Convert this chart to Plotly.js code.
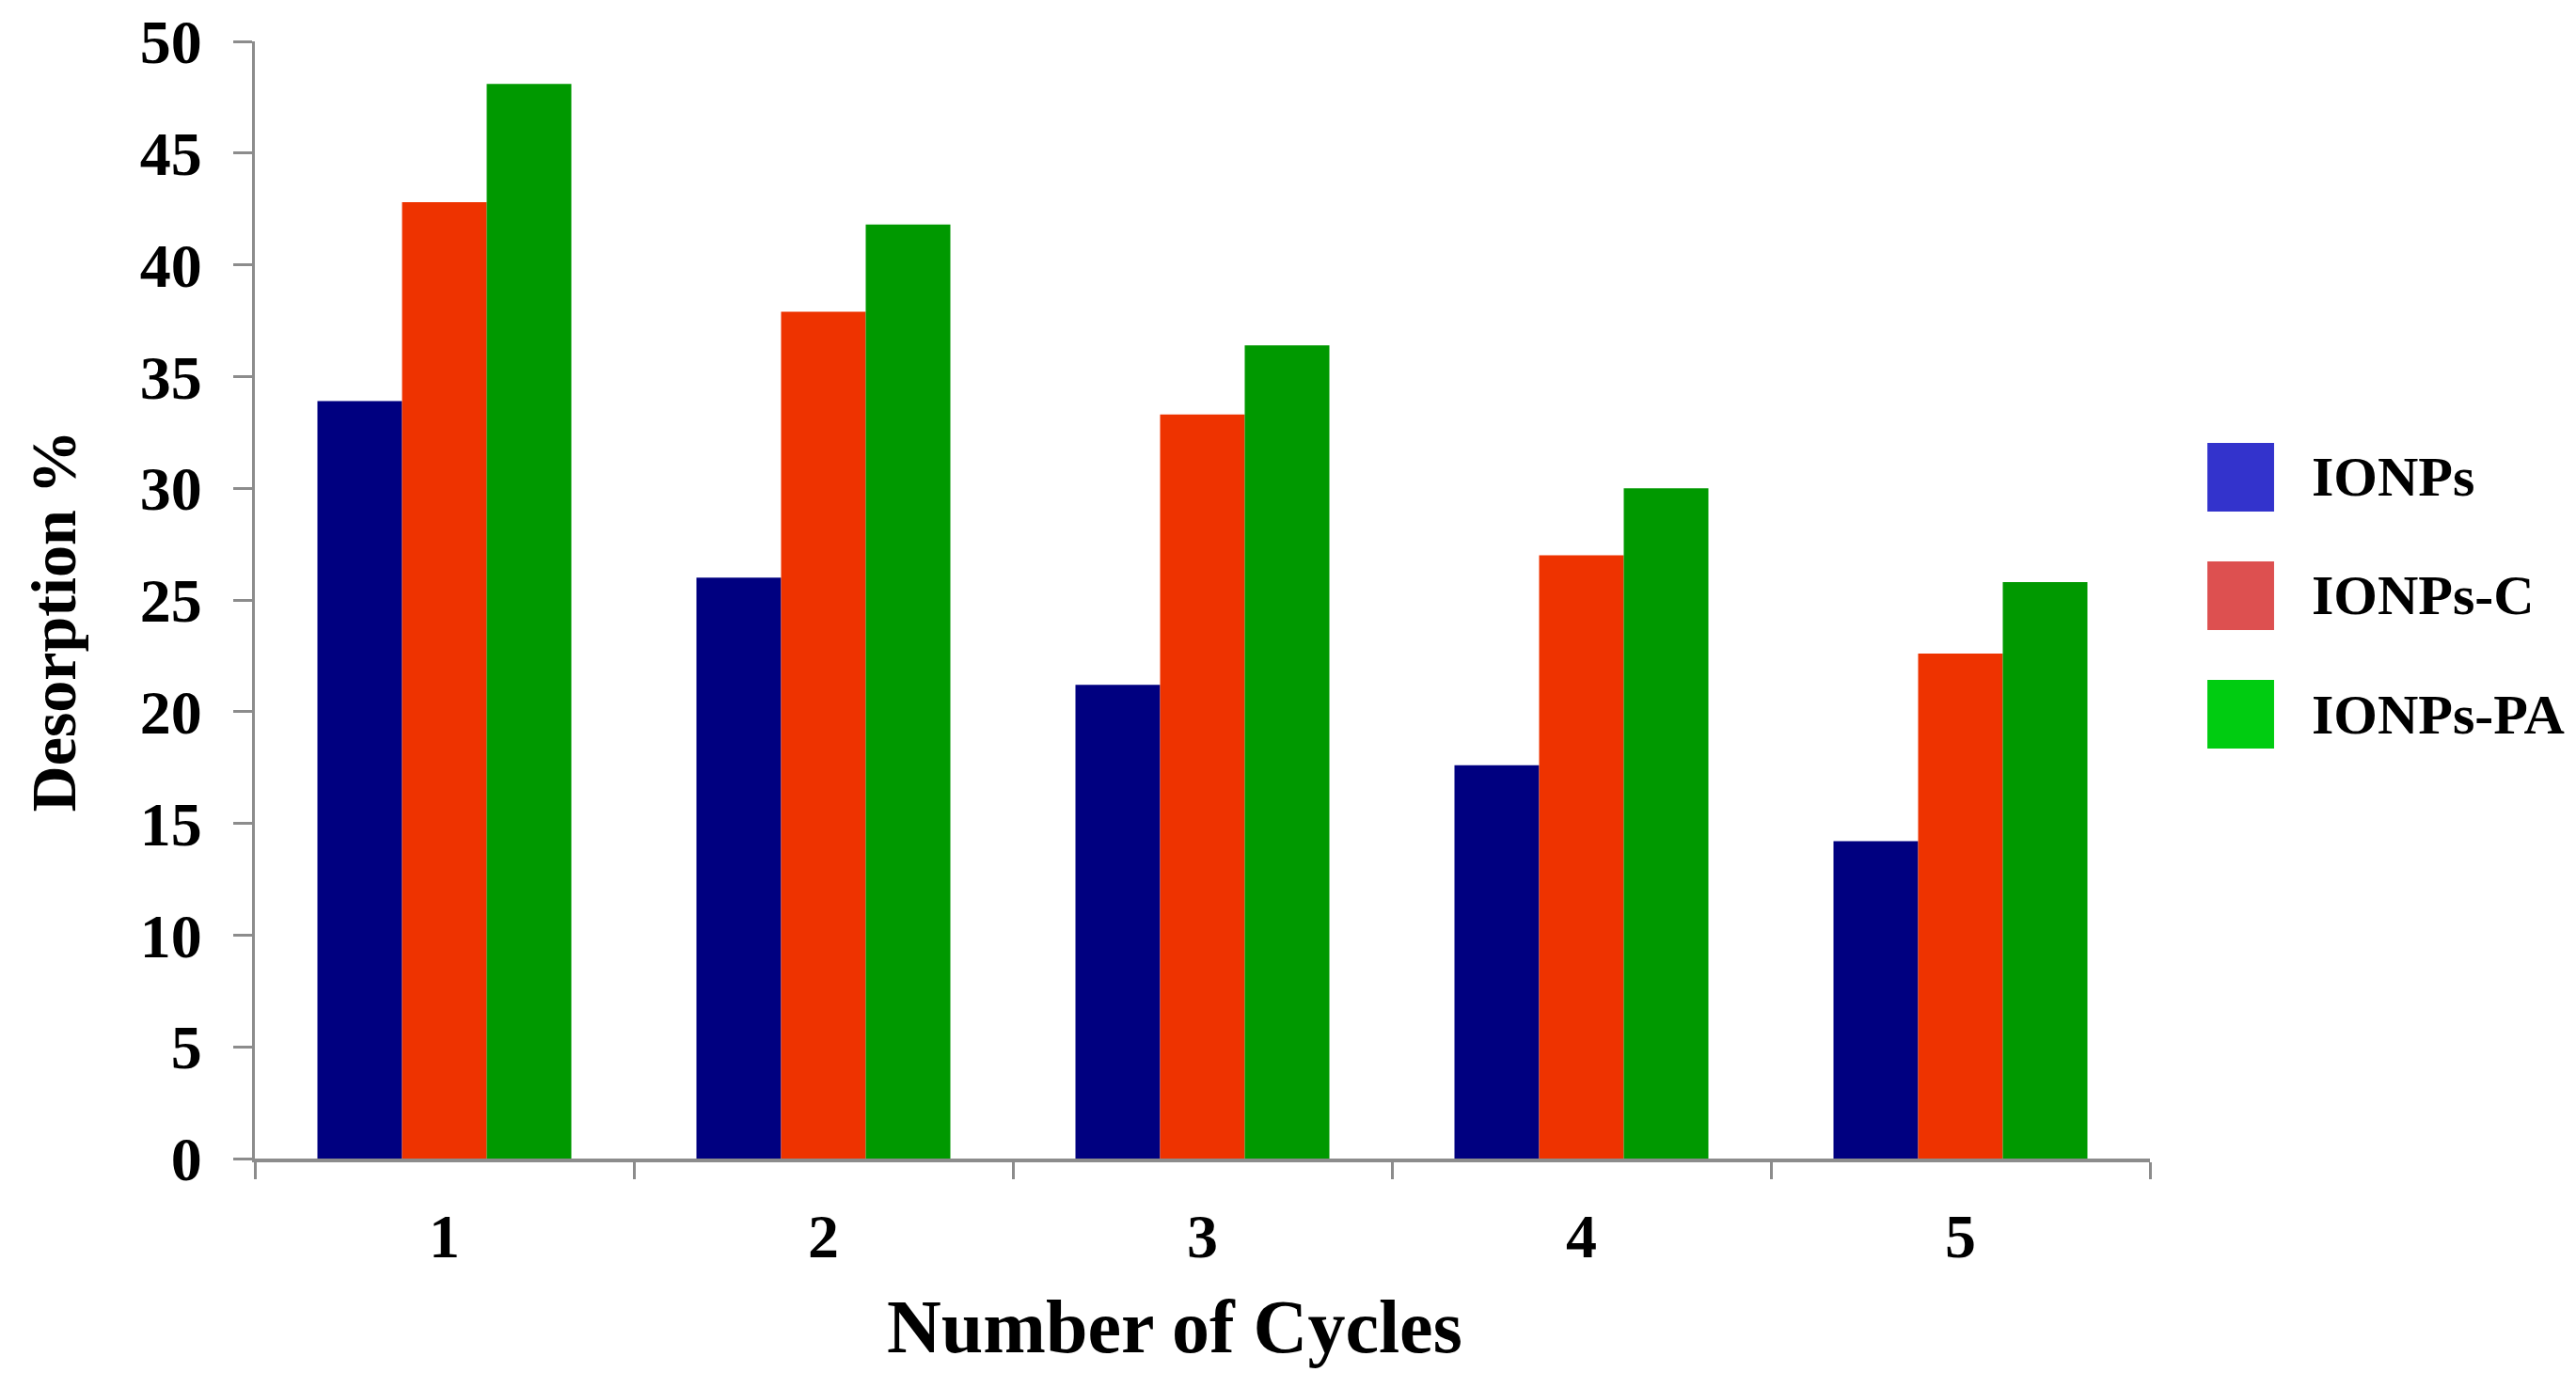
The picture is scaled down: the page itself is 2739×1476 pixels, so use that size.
<!DOCTYPE html>
<html>
<head>
<meta charset="utf-8">
<script src="https://cdn.plot.ly/plotly-3.0.1.min.js"></script>
<style>
  html, body { margin: 0; padding: 0; background: #fff; }
  #chart { width: 2739px; height: 1476px; }
</style>
</head>
<body>
<div id="chart"></div>
<script>
var cycles = ['1', '2', '3', '4', '5'];
var seriesNames = ['IONPs', 'IONPs-C', 'IONPs-PA'];
var ionps = [33.9, 26.0, 21.2, 17.6, 14.2];
var ionpsC = [42.8, 37.9, 33.3, 27.0, 22.6];
var ionpsPA = [48.1, 41.8, 36.4, 30.0, 25.8];
var barColors = ['#000080', '#ee3300', '#009900'];
var legendColors = ['#3333cc', '#dd5050', '#00cc11'];
var xTitle = 'Number of Cycles';
var yTitle = 'Desorption %';

var serif = 'Liberation Serif, Times New Roman, serif';
var axisGrey = '#8c8c8c';

var values = [ionps, ionpsC, ionpsPA];
var data = values.map(function (vals, i) {
    return {
        type: 'bar',
        name: seriesNames[i],
        x: cycles,
        y: vals,
        marker: { color: barColors[i], line: { width: 0 } },
        showlegend: false
    };
});

// legend drawn by hand: plotly's bar swatches are too small at this size
var shapes = [];
var annotations = [];
var rowTop = 0.6406, rowStep = 0.1061, swatchH = 0.0614;
seriesNames.forEach(function (name, i) {
    var y1 = rowTop - i * rowStep;
    shapes.push({
        type: 'rect', xref: 'paper', yref: 'paper',
        x0: 1.0303, x1: 1.0655, y0: y1 - swatchH, y1: y1,
        fillcolor: legendColors[i], line: { width: 0 }
    });
    annotations.push({
        xref: 'paper', yref: 'paper', x: 1.0844, y: y1 - swatchH / 2,
        xanchor: 'left', yanchor: 'middle', showarrow: false,
        text: name,
        font: { family: serif, size: 60, weight: 'bold', color: '#000' }
    });
});

// axis titles as annotations so they sit where the original has them
annotations.push({
    xref: 'paper', yref: 'paper', x: 0.4854, y: -0.1505,
    xanchor: 'center', yanchor: 'middle', showarrow: false,
    text: xTitle,
    font: { family: serif, size: 80, weight: 'bold', color: '#000' }
});
annotations.push({
    xref: 'paper', yref: 'paper', x: -0.1060, y: 0.4815,
    xanchor: 'center', yanchor: 'middle', showarrow: false,
    textangle: -90,
    text: yTitle,
    font: { family: serif, size: 68, weight: 'bold', color: '#000' }
});

var layout = {
    width: 2739,
    height: 1476,
    margin: { l: 271, r: 453, t: 44, b: 244, pad: 0 },
    paper_bgcolor: '#fff',
    plot_bgcolor: '#fff',
    font: { family: serif, size: 66, weight: 'bold', color: '#000' },
    barmode: 'group',
    bargap: 0.33,
    bargroupgap: 0,
    showlegend: false,
    xaxis: {
        type: 'category',
        tickson: 'boundaries',
        ticks: 'outside',
        ticklen: 18,
        tickwidth: 3,
        tickcolor: axisGrey,
        showline: true,
        linecolor: axisGrey,
        linewidth: 4,
        showgrid: false,
        ticklabelstandoff: 22,
        tickfont: { family: serif, size: 66, weight: 'bold', color: '#000' }
    },
    yaxis: {
        range: [0, 50],
        dtick: 5,
        ticks: 'outside',
        ticklen: 20,
        tickwidth: 3,
        tickcolor: axisGrey,
        showline: true,
        linecolor: axisGrey,
        linewidth: 3,
        showgrid: false,
        zeroline: false,
        ticklabelstandoff: 20,
        tickfont: { family: serif, size: 66, weight: 'bold', color: '#000' }
    },
    shapes: shapes,
    annotations: annotations
};

Plotly.newPlot('chart', data, layout, { displayModeBar: false, staticPlot: true });
</script>
</body>
</html>
